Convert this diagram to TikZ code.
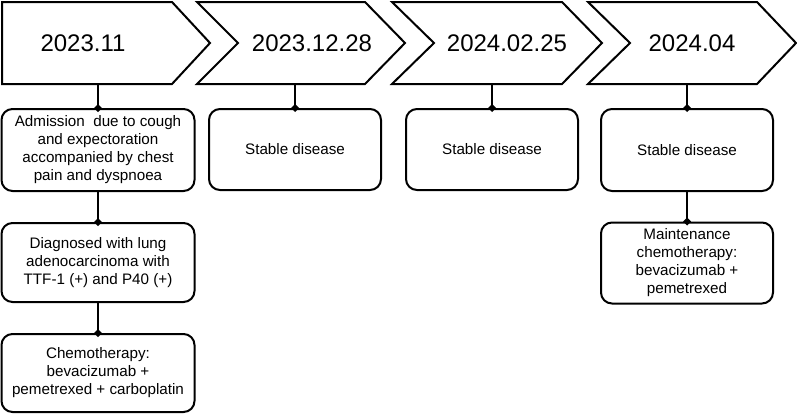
\documentclass[tikz,border=0pt]{standalone}
\usepackage{fontspec}
\setmainfont{Liberation Sans}
\begin{document}
\begin{tikzpicture}[x=1pt,y=-1pt,
  chev/.style={draw=black,line width=2pt,line join=miter,fill=white},
  datelbl/.style={font=\fontsize{24}{28}\selectfont,inner sep=0pt},
  evbox/.style={draw=black,line width=2pt,rounded corners=11pt,align=center,
    font=\fontsize{15.2}{18}\selectfont,inner sep=1pt},
  wide/.style={evbox,minimum width=193pt},
  narrow/.style={evbox,minimum width=172pt},
  link/.style={line width=2pt},
  dot/.style={fill=black}]
\useasboundingbox (0,0) rectangle (797,415);
% chevrons
\draw[chev] (2,2) -- (172,2) -- (210,43) -- (172,84) -- (2,84) -- cycle;
\draw[chev] (197,2) -- (365,2) -- (405,43) -- (365,84) -- (197,84) -- (238,43) -- cycle;
\draw[chev] (392,2) -- (562,2) -- (602,43) -- (562,84) -- (392,84) -- (434,43) -- cycle;
\draw[chev] (588,2) -- (757,2) -- (796,43) -- (757,84) -- (588,84) -- (630,43) -- cycle;
\node[datelbl] (d1) at (83,43) {2023.11};
\node[datelbl] (d2) at (312,43) {2023.12.28};
\node[datelbl] (d3) at (507,43) {2024.02.25};
\node[datelbl] (d4) at (692,43) {2024.04};
\coordinate (c1) at (98,84);
\coordinate (c2) at (295,84);
\coordinate (c3) at (492,84);
\coordinate (c4) at (687,84);
% boxes
\node[wide,minimum height=82pt] (b11) at (98,150) {Admission\ \ due to cough\\and expectoration\\accompanied by chest\\pain and dyspnoea};
\node[wide,minimum height=79pt] (b12) at (98,262.5) {Diagnosed with lung\\adenocarcinoma with\\TTF-1 (+) and P40 (+)};
\node[wide,minimum height=78pt] (b13) at (98,373) {Chemotherapy:\\bevacizumab +\\pemetrexed + carboplatin};
\node[narrow,minimum height=81pt] (b2) at (295,149.5) {Stable disease};
\node[narrow,minimum height=81pt] (b3) at (492,149.5) {Stable disease};
\node[narrow,minimum height=82pt] (b41) at (687,150) {Stable disease};
\node[narrow,minimum height=81pt] (b42) at (687,263) {Maintenance\\chemotherapy:\\bevacizumab +\\pemetrexed};
% connectors
\draw[link] (c1) -- (b11.north);
\draw[link] (b11.south) -- (b12.north);
\draw[link] (b12.south) -- (b13.north);
\draw[link] (c2) -- (b2.north);
\draw[link] (c3) -- (b3.north);
\draw[link] (c4) -- (b41.north);
\draw[link] (b41.south) -- (b42.north);
\foreach \n in {b11,b12,b13,b2,b3,b41,b42}
  \fill[dot] (\n.north) +(0,-4) -- +(4,0) -- +(0,4) -- +(-4,0) -- cycle;
\end{tikzpicture}
\end{document}
